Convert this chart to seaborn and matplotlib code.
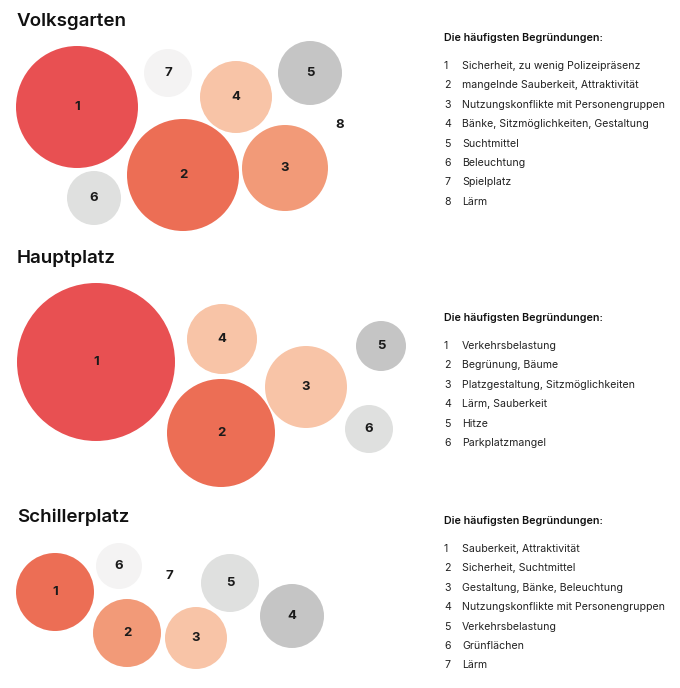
import matplotlib
matplotlib.use("Agg")
import matplotlib.pyplot as plt
import seaborn as sns
import pandas as pd

# Palette used in the reference
RED = '#E85052'
CORAL = '#EC6E55'
SALMON = '#F29A78'
PEACH = '#F8C4A7'
GREY_DARK = '#C5C5C5'
GREY_MID = '#DFE0DF'
GREY_LIGHT = '#F4F3F3'

# --- Volksgarten ---
vg_ids = ['1', '2', '3', '4', '5', '6', '7', '8']
vg_radius = [61, 56, 43, 36, 32, 27, 24, 0]
vg_colors = [RED, CORAL, SALMON, PEACH, GREY_DARK, GREY_MID, GREY_LIGHT, None]
vg_reasons = [
    'Sicherheit, zu wenig Polizeipräsenz',
    'mangelnde Sauberkeit, Attraktivität',
    'Nutzungskonflikte mit Personengruppen',
    'Bänke, Sitzmöglichkeiten, Gestaltung',
    'Suchtmittel',
    'Beleuchtung',
    'Spielplatz',
    'Lärm',
]

# --- Hauptplatz ---
hp_ids = ['1', '2', '3', '4', '5', '6']
hp_radius = [79, 54, 41, 35, 25, 24]
hp_colors = [RED, CORAL, PEACH, PEACH, GREY_DARK, GREY_MID]
hp_reasons = [
    'Verkehrsbelastung',
    'Begrünung, Bäume',
    'Platzgestaltung, Sitzmöglichkeiten',
    'Lärm, Sauberkeit',
    'Hitze',
    'Parkplatzmangel',
]

# --- Schillerplatz ---
sp_ids = ['1', '2', '3', '4', '5', '6', '7']
sp_radius = [39, 34, 31, 32, 29, 23, 0]
sp_colors = [CORAL, SALMON, PEACH, GREY_DARK, GREY_MID, GREY_LIGHT, None]
sp_reasons = [
    'Sauberkeit, Attraktivität',
    'Sicherheit, Suchtmittel',
    'Gestaltung, Bänke, Beleuchtung',
    'Nutzungskonflikte mit Personengruppen',
    'Verkehrsbelastung',
    'Grünflächen',
    'Lärm',
]

# bubble layout (pixel positions of the centres)
vg_layout = [(77, 107), (183, 175), (285, 168), (236, 97), (310, 73), (94, 198), (168, 73), (340, 125)]
hp_layout = [(96, 362), (221, 433), (306, 387), (222, 339), (381, 346), (369, 429)]
sp_layout = [(55, 592), (127, 633), (196, 638), (292, 616), (230, 583), (119, 566), (169, 576)]

panels = [
    ('Volksgarten', 21.5, 38, vg_ids, vg_radius, vg_colors, vg_reasons, vg_layout),
    ('Hauptplatz', 258.5, 318, hp_ids, hp_radius, hp_colors, hp_reasons, hp_layout),
    ('Schillerplatz', 517, 521, sp_ids, sp_radius, sp_colors, sp_reasons, sp_layout),
]

sns.set_theme(style="white")
plt.rcParams['font.family'] = ['Inter', 'DejaVu Sans']

W, H, DPI = 680, 688, 100
fig = plt.figure(figsize=(W / DPI, H / DPI), dpi=DPI)
ax = fig.add_axes([0, 0, 1, 1])

for title, title_y, legend_y, ids, radius, colors, reasons, layout in panels:
    df = pd.DataFrame({
        'id': ids,
        'r': radius,
        'color': colors,
        'x': [p[0] for p in layout],
        'y': [p[1] for p in layout],
    })
    bubbles = df[df['r'] > 0]
    # marker area in pt^2 so that the diameter equals 2r pixels
    sizes = ((2 * bubbles['r']) * 72 / DPI) ** 2
    sns.scatterplot(data=bubbles, x='x', y='y', hue='color',
                    palette={c: c for c in bubbles['color']},
                    s=sizes, linewidth=0, legend=False, ax=ax, zorder=2)
    for _, row in df.iterrows():
        ax.text(row['x'], row['y'], row['id'], ha='center', va='center',
                fontsize=9.5, fontweight='bold', color='#1a1a1a', zorder=3)

    ax.text(17, title_y, title, ha='left', va='center', fontsize=13.5,
            fontweight='semibold', color='#111111')

    ax.text(444, legend_y, 'Die häufigsten Begründungen:', ha='left', va='center',
            fontsize=7.7, fontweight='semibold', color='#111111')
    for i, (num, reason) in enumerate(zip(ids, reasons)):
        yy = legend_y + 28 + i * 19.4
        ax.text(444, yy, num, ha='left', va='center', fontsize=7.6, color='#222222')
        ax.text(462, yy, reason, ha='left', va='center', fontsize=7.6, color='#222222')

ax.set_xlim(0, W)
ax.set_ylim(H, 0)
ax.set_aspect('auto')
ax.axis('off')

fig.savefig('out.png', dpi=DPI, facecolor='white')
